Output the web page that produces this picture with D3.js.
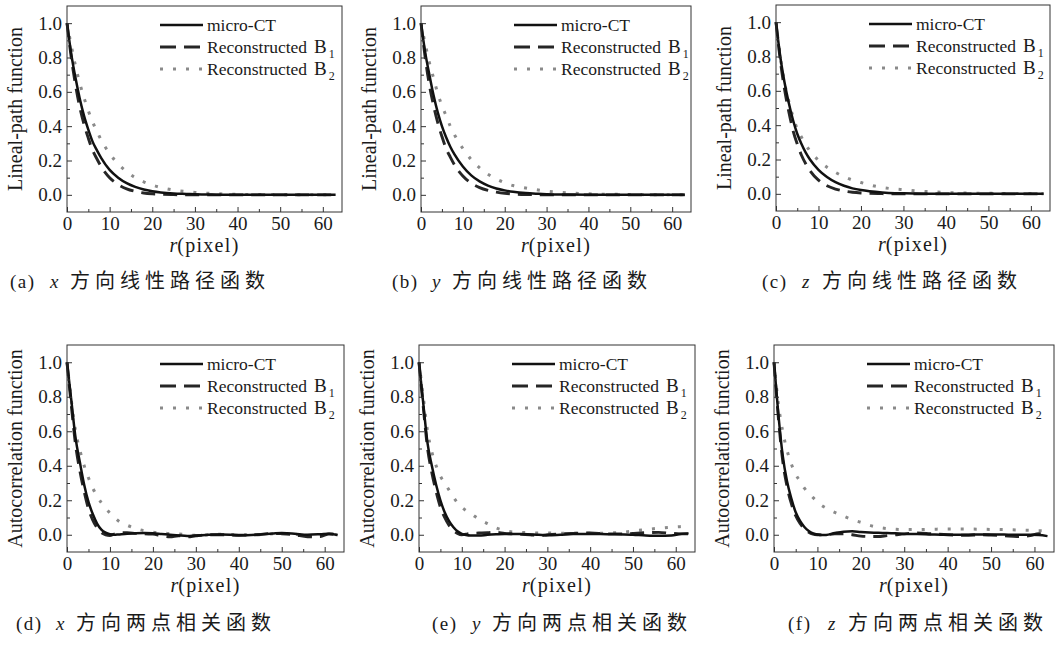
<!DOCTYPE html>
<html>
<head>
<meta charset="utf-8">
<script src="https://cdn.jsdelivr.net/npm/d3@7"></script>
<style>
  html, body { margin: 0; padding: 0; background: #fff; }
  svg { display: block; }
</style>
</head>
<body>
<div id="chart"></div>
<script>
// r (pixel) sample points
const rLP = [0, 1, 2, 3, 4, 5, 6, 7, 8, 10, 12, 14, 16, 18, 20, 22, 25, 28, 30, 35, 40, 50, 63];
const rAC = [0, 1, 2, 3, 4, 5, 6, 7, 8, 9, 10, 11, 12, 14, 16, 18, 20, 22, 24, 26, 28, 30, 33, 36, 40, 44, 48, 50, 53, 56, 59, 61, 63];

// lineal-path function, x / y / z direction
const lpX_micro = [1.0, 0.82, 0.68, 0.56, 0.46, 0.38, 0.31, 0.26, 0.215, 0.145, 0.1, 0.068, 0.046, 0.031, 0.021, 0.014, 0.008, 0.005, 0.003, 0.001, 0, 0, 0];
const lpX_B1 = [1.0, 0.8, 0.64, 0.51, 0.41, 0.33, 0.26, 0.21, 0.165, 0.1, 0.06, 0.035, 0.02, 0.011, 0.006, 0.003, 0.001, 0, 0, 0, 0, 0, 0];
const lpX_B2 = [1.0, 0.87, 0.75, 0.65, 0.565, 0.49, 0.425, 0.37, 0.32, 0.24, 0.18, 0.135, 0.1, 0.076, 0.057, 0.043, 0.028, 0.019, 0.014, 0.007, 0.003, 0.001, 0];

const lpY_micro = [1.0, 0.83, 0.7, 0.58, 0.48, 0.4, 0.335, 0.28, 0.235, 0.165, 0.113, 0.078, 0.054, 0.037, 0.026, 0.018, 0.01, 0.006, 0.004, 0.002, 0.001, 0, 0];
const lpY_B1 = [1.0, 0.8, 0.64, 0.52, 0.42, 0.34, 0.27, 0.22, 0.175, 0.11, 0.068, 0.042, 0.026, 0.016, 0.009, 0.005, 0.002, 0.001, 0, 0, 0, 0, 0];
const lpY_B2 = [1.0, 0.88, 0.77, 0.68, 0.59, 0.52, 0.46, 0.4, 0.35, 0.27, 0.205, 0.157, 0.12, 0.092, 0.07, 0.054, 0.04, 0.028, 0.022, 0.012, 0.006, 0.002, 0];

const lpZ_micro = [1.0, 0.8, 0.65, 0.53, 0.43, 0.35, 0.29, 0.24, 0.2, 0.14, 0.098, 0.068, 0.047, 0.032, 0.022, 0.015, 0.008, 0.004, 0.003, 0.001, 0, 0, 0];
const lpZ_B1 = [1.0, 0.78, 0.61, 0.48, 0.37, 0.29, 0.225, 0.175, 0.135, 0.08, 0.047, 0.028, 0.016, 0.009, 0.005, 0.003, 0.001, 0, 0, 0, 0, 0, 0];
const lpZ_B2 = [1.0, 0.8, 0.65, 0.54, 0.45, 0.38, 0.33, 0.285, 0.25, 0.195, 0.155, 0.125, 0.1, 0.08, 0.066, 0.052, 0.037, 0.028, 0.024, 0.014, 0.008, 0.003, 0.001];

// two-point autocorrelation function, x / y / z direction
const acX_micro = [1.0, 0.78, 0.56, 0.42, 0.29, 0.19, 0.12, 0.065, 0.03, 0.012, 0.003, 0, 0.002, 0.006, 0.009, 0.01, 0.008, 0.004, 0, -0.004, -0.007, -0.005, 0, 0.002, -0.003, 0, 0.007, 0.01, 0.006, 0, 0.003, 0.006, -0.002];
const acX_B1 = [1.0, 0.75, 0.52, 0.37, 0.25, 0.15, 0.085, 0.04, 0.012, 0, -0.004, 0.004, 0.01, 0.012, 0.008, 0.005, 0.004, -0.006, -0.012, -0.006, -0.012, -0.006, 0, 0, -0.003, 0, 0.008, 0.006, 0, -0.012, -0.01, 0.004, 0];
const acX_B2 = [1.0, 0.78, 0.6, 0.49, 0.4, 0.33, 0.27, 0.225, 0.185, 0.155, 0.125, 0.1, 0.08, 0.055, 0.036, 0.023, 0.015, 0.01, 0.007, 0.004, 0, -0.003, 0, 0.003, 0, 0, 0.006, 0.008, 0.004, -0.004, -0.002, 0.004, 0];

const acY_micro = [1.0, 0.76, 0.53, 0.4, 0.29, 0.2, 0.13, 0.08, 0.045, 0.02, 0.005, -0.002, -0.005, -0.005, 0, 0.003, 0.005, 0.005, 0.004, 0.002, 0, -0.003, 0, 0.004, 0.005, 0.003, 0.002, 0, -0.004, -0.006, -0.004, 0.004, 0.008];
const acY_B1 = [1.0, 0.74, 0.5, 0.36, 0.25, 0.16, 0.1, 0.055, 0.025, 0.008, 0, 0.004, 0.008, 0.01, 0.012, 0.015, 0.008, 0.005, 0.002, 0, -0.005, 0, 0.005, 0.008, 0.01, 0.005, 0.005, 0.008, 0.012, 0.014, 0.008, 0.005, 0.005];
const acY_B2 = [1.0, 0.8, 0.6, 0.48, 0.4, 0.34, 0.3, 0.26, 0.22, 0.185, 0.16, 0.14, 0.125, 0.09, 0.065, 0.04, 0.025, 0.016, 0.013, 0.012, 0.01, 0.01, 0.009, 0.008, 0.008, 0.01, 0.015, 0.022, 0.03, 0.038, 0.044, 0.047, 0.05];

const acZ_micro = [1.0, 0.7, 0.46, 0.31, 0.21, 0.13, 0.08, 0.045, 0.022, 0.008, 0.001, -0.002, -0.001, 0.01, 0.018, 0.02, 0.016, 0.013, 0.011, 0.01, 0.008, 0.005, 0.004, 0.002, 0, 0, 0.002, 0.002, 0.001, 0, 0, -0.002, -0.008];
const acZ_B1 = [1.0, 0.68, 0.43, 0.28, 0.18, 0.11, 0.065, 0.035, 0.015, 0.004, 0, -0.001, 0, 0.005, 0.005, 0, -0.008, -0.01, -0.01, -0.005, 0, 0.005, 0.01, 0.006, 0, -0.003, 0, -0.002, -0.006, -0.01, -0.005, 0.006, 0.005];
const acZ_B2 = [1.0, 0.76, 0.6, 0.49, 0.41, 0.35, 0.31, 0.27, 0.24, 0.215, 0.19, 0.17, 0.155, 0.13, 0.108, 0.088, 0.072, 0.055, 0.043, 0.036, 0.032, 0.03, 0.03, 0.032, 0.033, 0.033, 0.032, 0.031, 0.03, 0.028, 0.026, 0.024, 0.022];

const seriesNames = ['micro-CT', 'Reconstructed', 'Reconstructed'];
const seriesLetters = ['', 'B', 'B'];
const seriesSubs = ['', '1', '2'];
const xTicks = [0, 10, 20, 30, 40, 50, 60];
const xMinor = [5, 15, 25, 35, 45, 55];
const yTicks = [0, 0.2, 0.4, 0.6, 0.8, 1.0];
const yMinor = [0.1, 0.3, 0.5, 0.7, 0.9];

const w = 1055;
const h = 649;
const serif = '"Liberation Serif", "Times New Roman", serif';
const cjk = '"Noto Sans CJK SC", sans-serif';

const styles = [
  { color: '#111', width: 2.5, dash: null },
  { color: '#262626', width: 2.9, dash: '14,8' },
  { color: '#8a8a8a', width: 3, dash: '3,10' }
];

const panels = [
  { left: 67, right: 342, top: 6, bottom: 212, r: rLP, data: [lpX_micro, lpX_B1, lpX_B2], ytitle: 'Lineal-path function', tag: '(a)', dir: 'x', cap: '方向线性路径函数', capX: 10, capY: 288 },
  { left: 421, right: 691, top: 6, bottom: 212, r: rLP, data: [lpY_micro, lpY_B1, lpY_B2], ytitle: 'Lineal-path function', tag: '(b)', dir: 'y', cap: '方向线性路径函数', capX: 392, capY: 288 },
  { left: 776, right: 1050, top: 5, bottom: 211, r: rLP, data: [lpZ_micro, lpZ_B1, lpZ_B2], ytitle: 'Lineal-path function', tag: '(c)', dir: 'z', cap: '方向线性路径函数', capX: 762, capY: 288 },
  { left: 67, right: 344, top: 345, bottom: 552, r: rAC, data: [acX_micro, acX_B1, acX_B2], ytitle: 'Autocorrelation function', tag: '(d)', dir: 'x', cap: '方向两点相关函数', capX: 16, capY: 630 },
  { left: 419, right: 695, top: 345, bottom: 552, r: rAC, data: [acY_micro, acY_B1, acY_B2], ytitle: 'Autocorrelation function', tag: '(e)', dir: 'y', cap: '方向两点相关函数', capX: 432, capY: 630 },
  { left: 774, right: 1054, top: 345, bottom: 552, r: rAC, data: [acZ_micro, acZ_B1, acZ_B2], ytitle: 'Autocorrelation function', tag: '(f)', dir: 'z', cap: '方向两点相关函数', capX: 788, capY: 630 }
];

const svg = d3.select('#chart')
  .append('svg')
  .attr('width', w)
  .attr('height', h);

svg.append('rect').attr('width', w).attr('height', h).attr('fill', '#fff');

panels.forEach(p => {
  const xScale = d3.scaleLinear()
    .domain([0, 64.5])
    .range([p.left, p.right]);
  const yScale = d3.scaleLinear()
    .domain([-0.1, 1.1])
    .range([p.bottom, p.top]);

  const g = svg.append('g');

  // curves
  const line = d3.line()
    .x(d => xScale(d[0]))
    .y(d => yScale(d[1]))
    .curve(d3.curveMonotoneX);

  [2, 1, 0].forEach(i => {
    const pts = p.r.map((r, k) => [r, p.data[i][k]]);
    g.append('path')
      .attr('d', line(pts))
      .attr('fill', 'none')
      .attr('stroke', styles[i].color)
      .attr('stroke-width', styles[i].width)
      .attr('stroke-dasharray', styles[i].dash);
  });

  // axes, ticks pointing inward
  const xAxis = d3.axisBottom(xScale).tickValues(xTicks).tickSize(-5).tickPadding(5).tickFormat(d3.format('d'));
  const xAxisMinor = d3.axisBottom(xScale).tickValues(xMinor).tickSize(-3).tickFormat('');
  const yAxis = d3.axisLeft(yScale).tickValues(yTicks).tickSize(-5).tickPadding(5).tickFormat(d3.format('.1f'));
  const yAxisMinor = d3.axisLeft(yScale).tickValues(yMinor).tickSize(-3).tickFormat('');

  [xAxis, xAxisMinor].forEach(ax => {
    g.append('g')
      .attr('transform', 'translate(0,' + p.bottom + ')')
      .call(ax);
  });
  [yAxis, yAxisMinor].forEach(ax => {
    g.append('g')
      .attr('transform', 'translate(' + p.left + ',0)')
      .call(ax);
  });

  g.selectAll('.domain').remove();
  g.selectAll('.tick line').attr('stroke', '#333');
  g.selectAll('.tick text')
    .attr('fill', '#1a1a1a')
    .style('font-family', serif)
    .style('font-size', '19px');

  g.append('rect')
    .attr('x', p.left)
    .attr('y', p.top)
    .attr('width', p.right - p.left)
    .attr('height', p.bottom - p.top)
    .attr('fill', 'none')
    .attr('stroke', '#333')
    .attr('stroke-width', 1);

  // axis titles
  g.append('text')
    .attr('transform', 'translate(' + (p.left - 45) + ',' + ((p.top + p.bottom) / 2) + ') rotate(-90)')
    .attr('text-anchor', 'middle')
    .style('font-family', serif)
    .style('font-size', '20px')
    .attr('fill', '#1a1a1a')
    .text(p.ytitle);

  const xt = g.append('text')
    .attr('x', (p.left + p.right) / 2)
    .attr('y', p.bottom + 40)
    .attr('text-anchor', 'middle')
    .style('font-family', serif)
    .style('font-size', '20px')
    .attr('fill', '#1a1a1a');
  xt.append('tspan').style('font-style', 'italic').text('r');
  xt.append('tspan').style('letter-spacing', '1.3px').text('(pixel)');

  // legend
  const legend = g.append('g');
  seriesNames.forEach((name, i) => {
    const ly = p.top + 19 + i * 22;
    legend.append('line')
      .attr('x1', p.left + 93)
      .attr('x2', p.left + 136)
      .attr('y1', ly)
      .attr('y2', ly)
      .attr('stroke', styles[i].color)
      .attr('stroke-width', styles[i].width + 0.2)
      .attr('stroke-dasharray', i === 1 ? '16,8' : styles[i].dash);
    const t = legend.append('text')
      .attr('x', p.left + 140)
      .attr('y', ly + 6)
      .style('font-family', serif)
      .style('font-size', '17.5px')
      .attr('fill', '#1a1a1a')
      .text(name);
    if (seriesLetters[i]) {
      t.append('tspan')
        .attr('dx', 7)
        .style('font-size', '19px')
        .text(seriesLetters[i]);
      t.append('tspan')
        .attr('dx', 2)
        .attr('dy', 5)
        .style('font-size', '12px')
        .text(seriesSubs[i]);
    }
  });

  // caption
  const cap = svg.append('g');
  cap.append('text')
    .attr('x', p.capX)
    .attr('y', p.capY)
    .style('font-family', serif)
    .style('font-size', '19px')
    .style('letter-spacing', '1.5px')
    .attr('fill', '#1a1a1a')
    .text(p.tag);
  cap.append('text')
    .attr('x', p.capX + 40)
    .attr('y', p.capY)
    .style('font-family', serif)
    .style('font-style', 'italic')
    .style('font-size', '19px')
    .attr('fill', '#1a1a1a')
    .text(p.dir);
  cap.append('text')
    .attr('x', p.capX + 60)
    .attr('y', p.capY)
    .style('font-family', cjk)
    .style('font-size', '20px')
    .style('letter-spacing', '5px')
    .attr('fill', '#1a1a1a')
    .text(p.cap);
});
</script>
</body>
</html>
